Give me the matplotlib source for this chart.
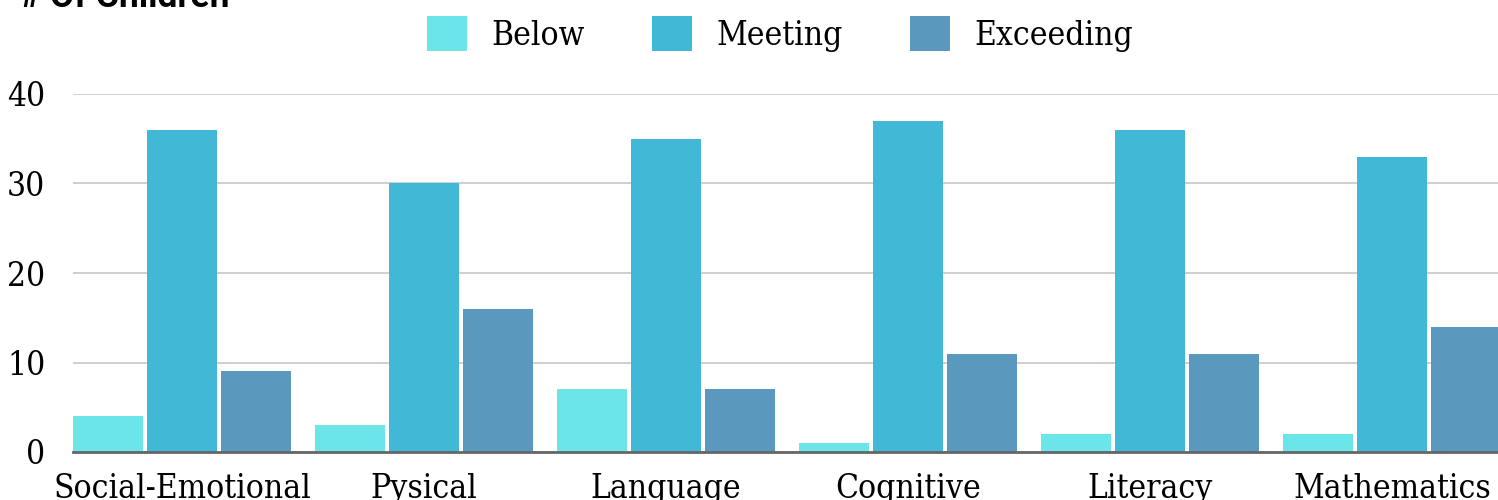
import matplotlib
matplotlib.use("Agg")
import matplotlib.pyplot as plt
import numpy as np

categories = ["Social-Emotional", "Pysical", "Language", "Cognitive", "Literacy", "Mathematics"]
series_names = ["Below", "Meeting", "Exceeding"]
below = [4, 3, 7, 1, 2, 2]
meeting = [36, 30, 35, 37, 36, 33]
exceeding = [9, 16, 7, 11, 11, 14]
colors = ["#6ce5e8", "#41b8d5", "#5a98be"]
yticks = [0, 10, 20, 30, 40]

serif = ["DejaVu Serif"]
fs = 24

fig = plt.figure(figsize=(14.98, 5.0), dpi=100)
ax = fig.add_axes([73/1498, 48/500, (1501-73)/1498, (452-94)/500])

x = np.arange(len(categories))
width = 70/242
step = 74/242
for i, (vals, name, c) in enumerate(zip([below, meeting, exceeding], series_names, colors)):
    ax.bar(x + (i-1)*step, vals, width=width, color=c, label=name, zorder=3)

ax.set_xlim(-0.45, len(categories) - 0.55)
ax.set_ylim(0, 40)
ax.set_yticks(yticks)
ax.set_yticklabels([str(t) for t in yticks], fontsize=fs, family=serif, fontstretch='condensed')
ax.set_xticks(x)
ax.set_xticklabels(categories, fontsize=fs, family=serif, fontstretch='condensed')
ax.tick_params(axis='both', length=0)
ax.tick_params(axis='y', pad=20)
ax.tick_params(axis='x', pad=15)
ax.grid(axis='y', color='#cccccc', linewidth=1.3, zorder=0)
for s in ['top', 'right', 'left']:
    ax.spines[s].set_visible(False)
ax.spines['bottom'].set_color('#666666')
ax.spines['bottom'].set_linewidth(2)
ax.spines['bottom'].set_zorder(4)

leg = fig.legend(loc='center', bbox_to_anchor=(780/1498, 1 - 34/500), ncol=3, frameon=False,
                 prop={'family': serif, 'size': fs, 'stretch': 'condensed'},
                 handlelength=1.2, handleheight=1.2, handletextpad=0.75, columnspacing=2.0,
                 borderpad=0, borderaxespad=0)

fig.text(20/1498, 1 - 7/500, "# Of Children", fontsize=25.5, fontweight='bold',
         family=['Roboto', 'DejaVu Sans'], ha='left', va='baseline')

fig.savefig("out.png", dpi=100)
